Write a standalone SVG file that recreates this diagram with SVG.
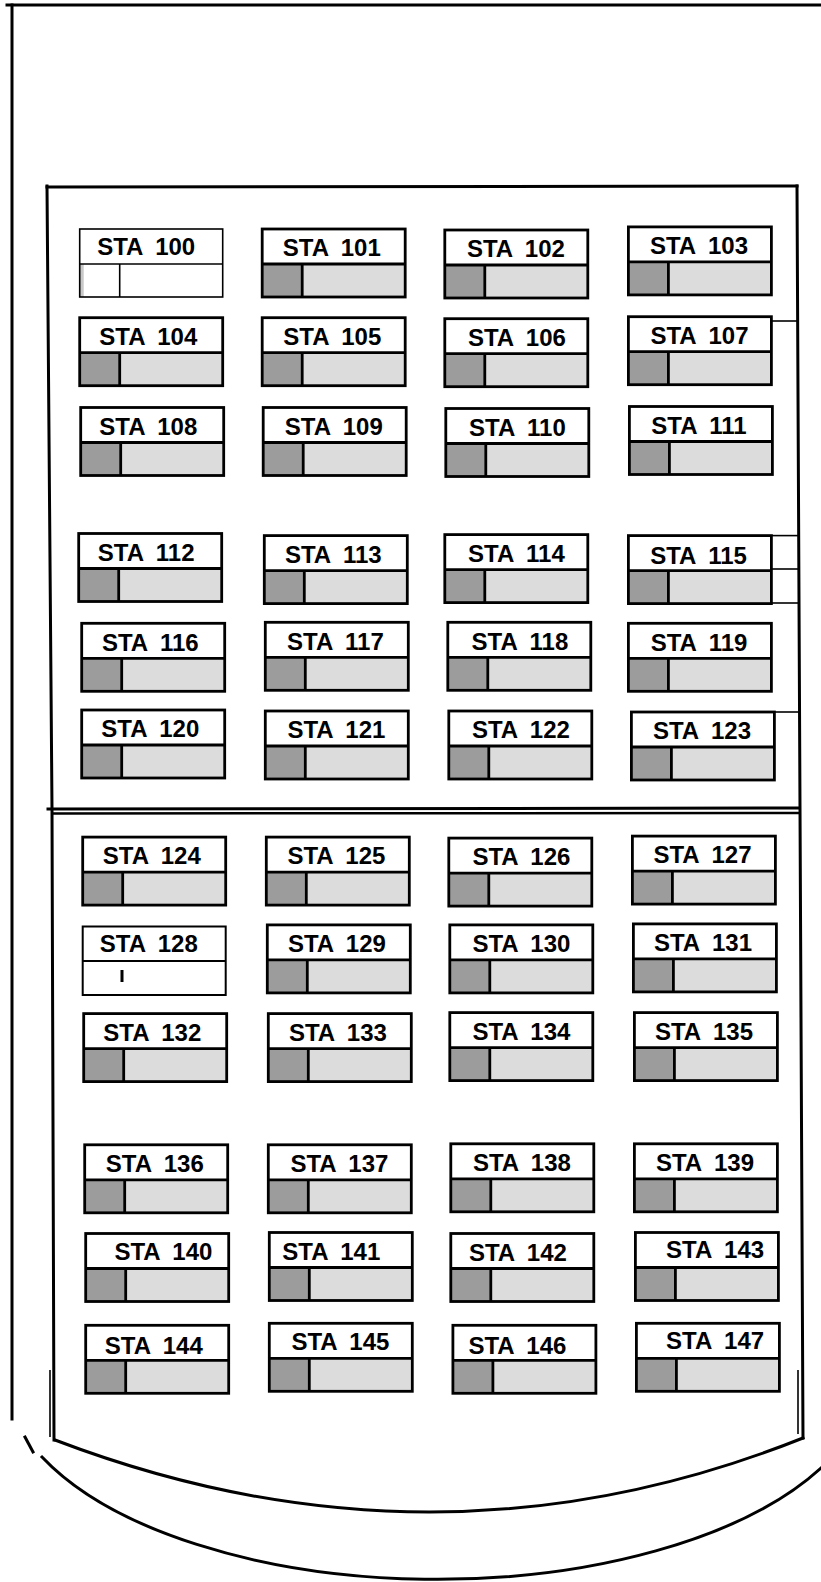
<svg xmlns="http://www.w3.org/2000/svg" xmlns:xlink="http://www.w3.org/1999/xlink" width="821" height="1582" viewBox="0 0 821 1582">
<style>
.ln{fill:none;stroke:#000;stroke-width:3;stroke-linecap:square}
.tn{fill:none;stroke:#000;stroke-width:1.6}
.bx{fill:none;stroke:#000;stroke-width:2.8}
.dk{fill:#9c9c9c}
.lt{fill:#dcdcdc}
text{font-family:"Liberation Sans",Arial,sans-serif;font-weight:bold;font-size:24px;word-spacing:6px;text-anchor:middle;fill:#000}
</style>
<defs>
<g id="btn">
<rect class="dk" x="0" y="35" width="40" height="33"/>
<rect class="lt" x="40" y="35" width="103" height="33"/>
<rect class="bx" x="0" y="0" width="143" height="68"/>
<line class="bx" x1="0" y1="35" x2="143" y2="35"/>
<line class="bx" x1="40" y1="35" x2="40" y2="68"/>
</g>
</defs>
<rect width="821" height="1582" fill="#fff"/>
<g id="housing">
<line class="ln" x1="7" y1="5" x2="821" y2="5"/>
<line class="ln" x1="12" y1="5" x2="12" y2="1419"/>
<path class="ln" d="M47 187 L797 186"/>
<path class="ln" d="M47 186 L52 809 L54 1440"/>
<path class="ln" d="M797 186 L800 808 L803 1438"/>
<line class="tn" x1="50" y1="1370" x2="50" y2="1437"/>
<line class="tn" x1="798" y1="1370" x2="798" y2="1434"/>
<line class="ln" x1="48" y1="809" x2="798" y2="808"/>
<line x1="52" y1="813.5" x2="800" y2="813" stroke="#000" stroke-width="2.5"/>
<path class="ln" d="M55 1440 Q435 1585 803 1438"/>
<path class="ln" d="M25 1437 L33 1452"/>
<path class="ln" d="M42 1457 A434 208.7 0 0 0 821 1468"/>
<line class="tn" x1="772" y1="321" x2="798" y2="321"/>
<line class="tn" x1="772" y1="535.6" x2="798" y2="535.6"/>
<line class="tn" x1="772" y1="569" x2="798" y2="569"/>
<line class="tn" x1="772" y1="603" x2="798" y2="603"/>
<line class="tn" x1="774" y1="712" x2="800" y2="712"/>
</g>
<g id="sta100">
<rect x="79.7" y="264" width="4" height="33" fill="#c8c8c8"/>
<rect class="tn" x="79.7" y="229" width="143" height="68"/>
<line class="tn" x1="79.7" y1="264" x2="222.7" y2="264"/>
<line class="tn" x1="119.7" y1="264" x2="119.7" y2="297"/>
<text x="146.2" y="255">STA 100</text>
</g>
<g id="sta101"><use xlink:href="#btn" x="262.2" y="229"/><text x="331.8" y="256">STA 101</text></g>
<g id="sta102"><use xlink:href="#btn" x="444.8" y="230"/><text x="515.9" y="257">STA 102</text></g>
<g id="sta103"><use xlink:href="#btn" x="628.4" y="226.9"/><text x="699" y="254">STA 103</text></g>
<g id="sta104"><use xlink:href="#btn" x="79.7" y="317.7"/><text x="148.3" y="345">STA 104</text></g>
<g id="sta105"><use xlink:href="#btn" x="262.2" y="317.7"/><text x="332.3" y="345">STA 105</text></g>
<g id="sta106"><use xlink:href="#btn" x="444.8" y="318.7"/><text x="516.9" y="346">STA 106</text></g>
<g id="sta107"><use xlink:href="#btn" x="628.4" y="316.7"/><text x="699.5" y="344">STA 107</text></g>
<g id="sta108"><use xlink:href="#btn" x="80.7" y="407.5"/><text x="148.3" y="435">STA 108</text></g>
<g id="sta109"><use xlink:href="#btn" x="263.2" y="407.5"/><text x="333.8" y="435">STA 109</text></g>
<g id="sta110"><use xlink:href="#btn" x="445.8" y="408.5"/><text x="517.4" y="436">STA 110</text></g>
<g id="sta111"><use xlink:href="#btn" x="629.4" y="406.5"/><text x="699" y="434">STA 111</text></g>
<g id="sta112"><use xlink:href="#btn" x="78.7" y="533.5"/><text x="146.2" y="561">STA 112</text></g>
<g id="sta113"><use xlink:href="#btn" x="264.3" y="535.6"/><text x="333.3" y="563">STA 113</text></g>
<g id="sta114"><use xlink:href="#btn" x="444.8" y="534.6"/><text x="516.4" y="562">STA 114</text></g>
<g id="sta115"><use xlink:href="#btn" x="628.4" y="535.6"/><text x="698.5" y="564">STA 115</text></g>
<g id="sta116"><use xlink:href="#btn" x="81.7" y="623.3"/><text x="150.3" y="651">STA 116</text></g>
<g id="sta117"><use xlink:href="#btn" x="265.3" y="622.3"/><text x="335.4" y="650">STA 117</text></g>
<g id="sta118"><use xlink:href="#btn" x="447.8" y="622.3"/><text x="519.9" y="650">STA 118</text></g>
<g id="sta119"><use xlink:href="#btn" x="628.4" y="623.3"/><text x="699" y="651">STA 119</text></g>
<g id="sta120"><use xlink:href="#btn" x="81.7" y="710"/><text x="150.3" y="737">STA 120</text></g>
<g id="sta121"><use xlink:href="#btn" x="265.3" y="711"/><text x="336.4" y="738">STA 121</text></g>
<g id="sta122"><use xlink:href="#btn" x="448.8" y="711"/><text x="520.9" y="738">STA 122</text></g>
<g id="sta123"><use xlink:href="#btn" x="631.4" y="712"/><text x="702" y="739">STA 123</text></g>
<g id="sta124"><use xlink:href="#btn" x="82.7" y="837.1"/><text x="151.8" y="864">STA 124</text></g>
<g id="sta125"><use xlink:href="#btn" x="266.3" y="837.1"/><text x="336.4" y="864">STA 125</text></g>
<g id="sta126"><use xlink:href="#btn" x="448.8" y="838.1"/><text x="521.4" y="865">STA 126</text></g>
<g id="sta127"><use xlink:href="#btn" x="632.4" y="836.1"/><text x="702.5" y="863">STA 127</text></g>
<g id="sta128">
<rect class="tn" x="82.7" y="926.5" width="143" height="68.5" style="stroke-width:2"/>
<line class="tn" x1="82.7" y1="961" x2="225.7" y2="961" style="stroke-width:2"/>
<rect x="120.5" y="970" width="3" height="12" fill="#000"/>
<text x="148.8" y="952">STA 128</text>
</g>
<g id="sta129"><use xlink:href="#btn" x="267.3" y="924.9"/><text x="336.9" y="952">STA 129</text></g>
<g id="sta130"><use xlink:href="#btn" x="449.8" y="924.9"/><text x="521.4" y="952">STA 130</text></g>
<g id="sta131"><use xlink:href="#btn" x="633.4" y="923.9"/><text x="703" y="951">STA 131</text></g>
<g id="sta132"><use xlink:href="#btn" x="83.7" y="1013.6"/><text x="152.3" y="1041">STA 132</text></g>
<g id="sta133"><use xlink:href="#btn" x="268.3" y="1013.6"/><text x="337.9" y="1041">STA 133</text></g>
<g id="sta134"><use xlink:href="#btn" x="449.8" y="1012.6"/><text x="521.4" y="1040">STA 134</text></g>
<g id="sta135"><use xlink:href="#btn" x="634.4" y="1012.6"/><text x="704" y="1040">STA 135</text></g>
<g id="sta136"><use xlink:href="#btn" x="84.7" y="1144.8"/><text x="154.8" y="1172">STA 136</text></g>
<g id="sta137"><use xlink:href="#btn" x="268.3" y="1144.8"/><text x="339.4" y="1172">STA 137</text></g>
<g id="sta138"><use xlink:href="#btn" x="450.8" y="1143.8"/><text x="521.9" y="1171">STA 138</text></g>
<g id="sta139"><use xlink:href="#btn" x="634.4" y="1143.8"/><text x="705" y="1171">STA 139</text></g>
<g id="sta140"><use xlink:href="#btn" x="85.7" y="1233.5"/><text x="163.4" y="1260">STA 140</text></g>
<g id="sta141"><use xlink:href="#btn" x="269.3" y="1232.5"/><text x="331.3" y="1260">STA 141</text></g>
<g id="sta142"><use xlink:href="#btn" x="450.8" y="1233.5"/><text x="517.9" y="1261">STA 142</text></g>
<g id="sta143"><use xlink:href="#btn" x="635.4" y="1232.5"/><text x="715.1" y="1258">STA 143</text></g>
<g id="sta144"><use xlink:href="#btn" x="85.7" y="1325.3"/><text x="153.8" y="1354">STA 144</text></g>
<g id="sta145"><use xlink:href="#btn" x="269.3" y="1323.3"/><text x="340.4" y="1350">STA 145</text></g>
<g id="sta146"><use xlink:href="#btn" x="452.9" y="1325.3"/><text x="517.4" y="1354">STA 146</text></g>
<g id="sta147"><use xlink:href="#btn" x="636.4" y="1323.3"/><text x="715.1" y="1349">STA 147</text></g>
</svg>
